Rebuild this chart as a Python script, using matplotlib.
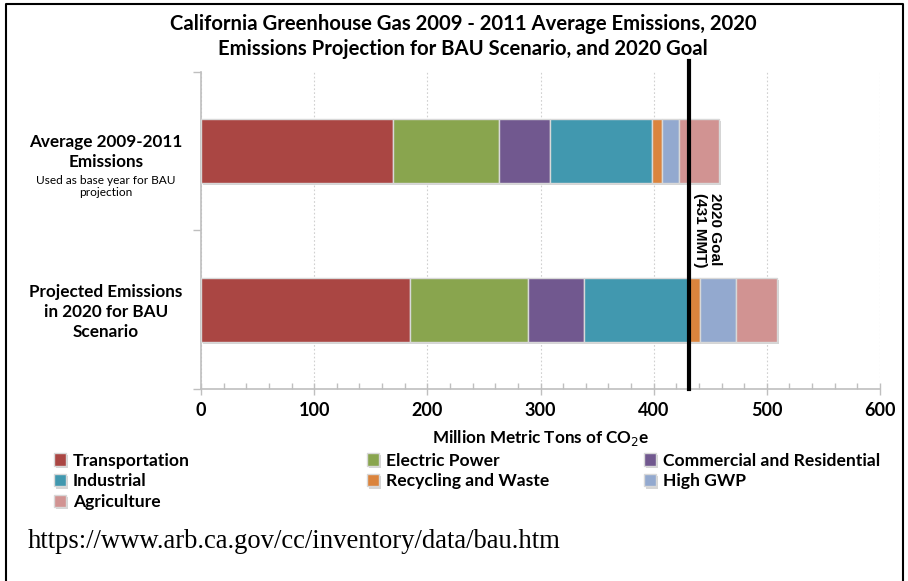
import matplotlib
matplotlib.use("Agg")
import matplotlib.pyplot as plt
import matplotlib.patheffects as pe
from matplotlib.ticker import MultipleLocator
import numpy as np

plt.rcParams["font.family"] = ["Lato", "DejaVu Sans"]

# emissions by sector, million metric tons CO2e
scenarios = ["Average 2009-2011\nEmissions", "Projected Emissions\nin 2020 for BAU\nScenario"]
sectors = [
    "Transportation",
    "Electric Power",
    "Commercial and Residential",
    "Industrial",
    "Recycling and Waste",
    "High GWP",
    "Agriculture",
]
avg_2009_2011 = [169.4, 93.6, 45.1, 90.4, 8.5, 15.6, 34.8]
bau_2020 = [185.0, 103.7, 49.5, 93.3, 9.5, 31.5, 36.8]
goal_2020 = 431

colors = ["#AA4643", "#89A54E", "#71588F", "#4198AF", "#DB843D", "#93A9CF", "#D19392"]

fig = plt.figure(figsize=(9.08, 5.81), dpi=100)
ax = fig.add_axes([0.2214, 0.3305, 0.7478, 0.5456])

values = np.array([avg_2009_2011, bau_2020])
ypos = np.arange(len(scenarios))
left = np.zeros(len(scenarios))
shadow = [pe.SimplePatchShadow(offset=(1.5, -1.5), shadow_rgbFace="#888888", alpha=0.35), pe.Normal()]
handles = []
for i, name in enumerate(sectors):
    bars = ax.barh(ypos, values[:, i], left=left, height=0.405, color=colors[i],
                   edgecolor="#d8d8d8", linewidth=1.0, label=name, zorder=3)
    for b in bars:
        b.set_path_effects(shadow)
    handles.append(bars)
    left += values[:, i]

ax.set_xlim(0, 600)
ax.set_ylim(1.5, -0.5)

# 2020 goal line
ax.axvline(goal_2020, ymin=0, ymax=1.035, color="black", lw=3, clip_on=False, zorder=5)
ax.text(goal_2020 + 4, 0.5, "2020 Goal\n(431 MMT)", rotation=270, ha="left", va="center",
        family=["Liberation Sans"], fontsize=11, fontweight="bold", linespacing=1.1)

# axes styling
ax.xaxis.set_major_locator(MultipleLocator(100))
ax.xaxis.set_minor_locator(MultipleLocator(20))
ax.grid(axis="x", which="major", color="#d0d0d0", linestyle=(0, (1.5, 2)), lw=0.8, zorder=0)
ax.set_yticks([-0.5, 0.5, 1.5])
ax.set_yticklabels([])
ax.tick_params(axis="y", length=6, color="#bfbfbf", width=1)
ax.tick_params(axis="x", which="major", direction="inout", length=9, color="#bfbfbf", width=1,
               pad=5, labelsize=13)
ax.tick_params(axis="x", which="minor", direction="in", length=4, color="#bfbfbf", width=1)
for lbl in ax.get_xticklabels():
    lbl.set_fontweight("bold")
for side in ["top", "right"]:
    ax.spines[side].set_visible(False)
for side in ["left", "bottom"]:
    ax.spines[side].set_color("#bfbfbf")
    ax.spines[side].set_linewidth(1.2)

ax.set_xlabel("Million Metric Tons of CO$_2$e", fontsize=12.3, fontweight="bold", labelpad=6)

# category labels left of the axis
cat_labels = [
    ax.text(-84, 0.005, scenarios[0], ha="center", va="center", fontsize=12.3, fontweight="bold",
            linespacing=1.25),
    ax.text(-84, 0.223, "Used as base year for BAU\nprojection", ha="center", va="center",
            fontsize=8.6, linespacing=1.15),
    ax.text(-84, 1.013, scenarios[1], ha="center", va="center", fontsize=12.3, fontweight="bold",
            linespacing=1.3),
]
for t in cat_labels:
    t.set_clip_on(False)

fig.text(0.51, 0.958, "California Greenhouse Gas 2009 - 2011 Average Emissions, 2020",
         ha="center", va="center", fontsize=14.6, fontweight="bold")
fig.text(0.51, 0.916, "Emissions Projection for BAU Scenario, and 2020 Goal",
         ha="center", va="center", fontsize=14.6, fontweight="bold")

# legend split into three columns
col_x = [0.059, 0.404, 0.709]
for c in range(3):
    hs = handles[c::3]
    fig.legend(hs, [h.get_label() for h in hs], loc="upper left", bbox_to_anchor=(col_x[c], 0.221),
               frameon=False, prop={"weight": "bold", "size": 12.6}, handlelength=0.7,
               handleheight=0.7, handletextpad=0.4, labelspacing=0.28, borderaxespad=0, borderpad=0)

fig.text(0.031, 0.068, "https://www.arb.ca.gov/cc/inventory/data/bau.htm",
         family=["Liberation Serif"], fontsize=19.2, va="center", ha="left")

# outer frame
frame = plt.Line2D([0.007, 0.007, 0.994, 0.994], [0.0, 0.993, 0.993, 0.0], transform=fig.transFigure,
                   color="black", lw=1.5)
fig.add_artist(frame)

fig.savefig("out.png", dpi=100)
